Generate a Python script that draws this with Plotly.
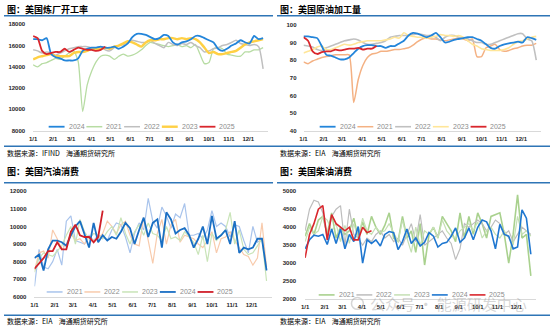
import plotly.graph_objects as go

W, H = 550, 331

# ---------------- data ----------------
month_starts = [0, 31, 59, 90, 120, 151, 181, 212, 243, 273, 304, 334]
month_labels = ["1/1", "2/1", "3/1", "4/1", "5/1", "6/1", "7/1", "8/1", "9/1", "10/1", "11/1", "12/1"]

# Panel 1: US refinery (kb/d)
ref_2024 = [16600,16600,16500,16700,15200,14900,14800,14600,14600,14600,
            14800,15500,15700,15800,15800,15900,15800,15800,15900,15700,
            15900,16200,16800,17100,17100,17000,16800,16600,16700,17000,
            16900,16300,16100,16300,16400,16600,16900,16900,16700,16500,
            16300,15700,15500,15700,16000,16200,16500,16300,16200,16900,
            16600,16700]
ref_2021 = [14200,14000,14300,14400,14600,14800,14700,15000,15300,15500,
            14500,9800,12300,13600,14500,15000,15100,15000,14700,15000,
            15200,15000,15100,15300,15600,16000,16300,16200,16100,16000,
            15900,16000,16100,15900,16000,15800,16100,15200,14300,14400,
            15700,15800,15700,15200,15100,15000,15000,15400,15400,15600,
            15600,15800]
ref_2022 = [15600,15500,15300,15400,15300,15100,15300,15500,15700,15800,
            15900,15900,15900,15800,15700,15900,15600,15500,15800,16000,
            16100,16300,16500,16400,16300,16300,16500,16200,16000,15800,
            16300,16100,16000,16200,16100,16300,16000,15800,15400,15500,
            15700,15800,16000,16100,16300,16500,16200,16100,16000,16100,
            15900,13800]
ref_2023 = [14700,14900,15000,15100,15200,15000,15000,15000,15000,15300,
            15400,15400,15500,15700,15700,15700,15800,15700,15900,16000,
            16200,16400,16300,16100,15900,16300,16500,16500,16600,16600,
            16700,16700,16600,16700,16600,16700,16600,16300,15800,15300,
            15400,15200,15200,15300,15400,15500,15800,16100,16300,16400,
            16500,16600]
ref_2025 = [16900,16700,15500,15200,15300,15400,15400,15700,15400,15600,
            15800,15700,15600,15600,15500,15600,15900]

# Panel 2: US crude runs
run_2024 = [93.5,93.5,93,92.5,88,83,82.5,81.5,80.5,80.5,
            81.5,84,86.5,88,88.5,88.5,88,88,87,88,
            88,89.5,91,94,95.5,95,94,93,94,95.5,
            93,90,90.5,91.5,92,92.5,93,93,92,91,
            89,87,86.5,88,89,89.5,90,90.5,90,93,
            92.5,91.5]
run_2021 = [79,78,79.5,80.5,81.5,82,82.5,83,83,83,
            83,56,69,77,81.5,83.5,84,85,85,85.5,
            86,86,86.5,87,88.5,90.5,92,92.5,92,92,
            91.5,91,91.5,92,92.5,92,91,92,82,82,
            87,88,89,86,85,85.5,86.5,87,88,88.5,
            88.5,89.5]
run_2022 = [88.5,88,87.5,86,85.5,87,88,89,90,91,
            91.5,92,91.5,90,89,89,89.5,90,91,93,
            93.5,94,94,94,94.5,95,94.5,94,94,93,
            91,93,94,94,93,92.5,92,91,90,90,
            89,89,90,91,92,93,94,95,95,92,
            91,80]
run_2023 = [84,85,86,87.5,88,86,86,87,88,89,
            88.5,89,90,90.5,91,91,91,91,91.5,92,
            93,92.5,95.5,94,93.5,93,93,92.5,93,93.5,
            94.5,94,94,93.5,94,93,91,89,88,86.5,
            86,85.5,85.5,85.5,86,87,89,90.5,91,92,
            93,93.5]
run_2025 = [93,91,85,83.5,84.5,85,85,86,85.5,86,86.5,86.5,87,86,86.5,86.5,88]

# Panel 3: US gasoline demand
gas_2021 = [6600,8700,7700,7600,8000,8700,7800,10300,10600,9200,
            9100,9000,9500,9200,9500,9400,9200,9800,10200,10100,
            9400,8500,9600,10200,9800,11600,10300,9900,11100,10600,
            9900,10700,10500,11300,9500,9500,9600,9300,9800,10900,
            10000,10200,10000,9400,10100,10000,9200,8500,10000,9100,
            9300,7500]
gas_2022 = [7500,8500,8600,8200,9800,9300,8700,9000,9600,9200,
            9300,9000,9400,9200,9300,9600,10300,10000,9600,10100,
            10300,9500,9000,8900,10500,9300,7900,9600,10400,9000,
            10100,10400,9100,9500,9400,9300,9000,8800,9200,9700,
            8500,9300,9400,9700,9200,8800,8400,8300,7800,8200,
            10200,7700]
gas_2023 = [7400,8200,8500,8400,8300,8600,8900,9500,10000,9000,
            10400,9700,9300,9600,9500,9300,9700,10000,9500,10500,
            9600,9000,9700,10100,9500,10200,9600,9500,9200,10000,
            9300,9400,9200,9700,9400,9100,8400,9500,8000,9600,
            9200,9500,9800,10800,9000,9800,8700,8400,8500,8900,
            9300,6900]
gas_2024 = [8200,8400,7500,8700,9200,9200,9100,8900,9500,10000,
            10300,9600,8800,10200,9100,9500,9200,9400,9300,9700,
            10200,9900,9000,9800,10500,9400,10200,10400,8800,10800,
            10400,9600,9800,9900,9500,8800,9300,10000,9000,10600,
            9300,9500,9800,9000,10300,8500,8800,8700,8800,9300,
            9300,7500]
gas_2025 = [7600,7900,8200,8600,8600,9100,8700,8700,9700,10100,9500,9400,9400,9100,9400,10900]

# Panel 4: US diesel demand
dsl_2021 = [3750,4100,3800,4200,4300,3800,4400,3700,4000,3800,
            3900,4250,3700,4150,3800,4300,4000,3800,4050,4400,
            3700,3600,4300,3700,3900,3300,4100,2950,3800,4000,
            3700,4300,4100,3900,3600,4400,3700,4300,3800,4400,
            4100,3700,4300,4350,4400,3800,3000,3800,4900,3700,
            3800,2650]
dsl_2022 = [3900,4500,4750,4700,4400,3700,4300,4500,4600,3500,
            4500,3800,3700,3500,3700,3600,3800,3900,3700,3800,
            3600,3700,3500,3800,4100,3600,4350,3500,3600,3700,
            3800,3900,3700,3550,3100,3400,4100,4000,4100,4200,
            4100,3900,4000,4200,4100,3800,3900,3600,3800,4000,
            3900,3800]
dsl_2023 = [3600,4000,3800,3900,4300,4200,3900,4100,3600,4050,
            3550,4100,3700,4250,3900,3800,4000,3850,3900,4100,
            3850,3600,4200,3700,3300,4000,3500,3900,3800,4000,
            3700,4200,3900,3750,3700,3900,4000,4100,3900,4150,
            3700,3900,4000,3800,3700,3900,3700,3500,4300,3800,
            3900,3750]
dsl_2024 = [3400,3650,3780,3750,3800,3520,3950,3550,3950,3400,
            3800,3600,4020,3000,3650,3550,3650,3480,3800,3880,
            3850,3380,3600,3950,3550,3700,3480,3580,3850,3750,
            3450,3550,3580,3750,3980,3580,3700,3980,3650,4000,
            4200,4150,3900,3400,4080,3800,3750,3400,3450,4480,
            4250,3250]
dsl_2025 = [3150,3800,4100,4500,4600,3650,4350,4100,4000,3900,4000,3650,3650,4000,3850,3900]

# ---------------- styling / layout ----------------
BLUE_RULE = "#2E75B6"
TICK_FONT = dict(family="Liberation Sans", size=6, color="#262626", weight="bold")
CJK = "Noto Sans CJK SC"

panels = [
    dict(title="图：美国炼厂开工率", source="数据来源：IFIND    海通期货研究所",
         ox=0, oy=0, xdom=(29.3, 266.2), ydom=(130, 21.7), yr=(8000, 18000), dt=2000,
         smooth=True, leg_x=45, leg_y=126, standoff=7,
         draw=[("2021", ref_2021, "#B7DCA3", 1.3), ("2022", ref_2022, "#BFBFBF", 1.5),
               ("2023", ref_2023, "#FFD044", 2.4), ("2024", ref_2024, "#2385DA", 1.8),
               ("2025", ref_2025, "#D9262C", 1.8)],
         legend=["2024", "2021", "2022", "2023", "2025"]),
    dict(title="图：美国原油加工量", source="数据来源：EIA    海通期货研究所",
         ox=275, oy=0, xdom=(301.7, 541.4), ydom=(130, 22.3), yr=(40, 100), dt=10,
         smooth=True, leg_x=318, leg_y=126, standoff=6,
         draw=[("2021", run_2021, "#F4B183", 1.5), ("2022", run_2022, "#C0C0C0", 1.6),
               ("2023", run_2023, "#FFE699", 1.6), ("2024", run_2024, "#2385DA", 1.8),
               ("2025", run_2025, "#D9262C", 1.8)],
         legend=["2024", "2021", "2022", "2023", "2025"]),
    dict(title="图：美国汽油消费", source="数据来源：EIA    海通期货研究所",
         ox=0, oy=165, xdom=(30.7, 269.7), ydom=(299.3, 191.7), yr=(6000, 12000), dt=1000,
         smooth=False, leg_x=43, leg_y=294.3, standoff=7,
         draw=[("2021", gas_2021, "#A9C4EC", 1.2), ("2022", gas_2022, "#F8CBAD", 1.2),
               ("2023", gas_2023, "#C9E4B8", 1.2), ("2024", gas_2024, "#1A6FC4", 1.8),
               ("2025", gas_2025, "#D0202A", 1.8)],
         legend=["2021", "2022", "2023", "2024", "2025"]),
    dict(title="图：美国柴油消费", source="数据来源：EIA    海通期货研究所",
         ox=275, oy=165, xdom=(303.3, 535.8), ydom=(301.7, 191.7), yr=(2000, 5000), dt=500,
         smooth=False, leg_x=317, leg_y=297.3, standoff=8,
         draw=[("2021", dsl_2021, "#A9D18E", 1.6), ("2022", dsl_2022, "#BDBDBD", 1.2),
               ("2023", dsl_2023, "#C5E0B4", 1.2), ("2024", dsl_2024, "#1F77D0", 1.6),
               ("2025", dsl_2025, "#D9262C", 1.6)],
         legend=["2021", "2022", "2023", "2024", "2025"]),
]


def px(x):
    return x / W


def py(y):
    return 1 - y / H


fig = go.Figure()
shapes, annotations = [], []
layout = {}

for k, p in enumerate(panels, start=1):
    sfx = "" if k == 1 else str(k)
    xa, ya = "x" + sfx, "y" + sfx
    for name, vals, col, w in p["draw"]:
        fig.add_trace(go.Scatter(
            x=[7 * i for i in range(len(vals))], y=vals, mode="lines", name=name,
            line=dict(color=col, width=w, shape="spline" if p["smooth"] else "linear",
                      smoothing=0.6),
            xaxis=xa, yaxis=ya, showlegend=False, hoverinfo="skip"))
    layout["xaxis" + sfx] = dict(
        domain=[px(p["xdom"][0]), px(p["xdom"][1])], range=[0, 365], anchor=ya,
        tickvals=month_starts, ticktext=month_labels, showgrid=False, zeroline=False,
        showline=True, linecolor="#D9D9D9", linewidth=1, ticks="", tickfont=TICK_FONT,
        ticklabelstandoff=2, fixedrange=True)
    layout["yaxis" + sfx] = dict(
        domain=[py(p["ydom"][0]), py(p["ydom"][1])], range=list(p["yr"]), dtick=p["dt"],
        tickformat="d", anchor=xa, showgrid=False, zeroline=False, showline=False, ticks="",
        tickfont=TICK_FONT, ticklabelstandoff=p["standoff"], fixedrange=True)

    # title + rules + source
    annotations.append(dict(text="<b>" + p["title"] + "</b>", x=px(p["ox"] + 1), y=py(p["oy"] + 7),
                            xref="paper", yref="paper", xanchor="left", yanchor="middle",
                            showarrow=False, font=dict(family=CJK, size=9, color="#000000")))
    annotations.append(dict(text=p["source"], x=px(p["ox"] + 1), y=py(p["oy"] + 159 if p["oy"] else 153),
                            xref="paper", yref="paper", xanchor="left", yanchor="middle",
                            showarrow=False, font=dict(family=CJK, size=7, color="#000000")))
    top_y = p["oy"] + (13 if p["oy"] == 0 else 18)
    bot_y = p["oy"] + (146 if p["oy"] == 0 else 153)
    x_end = p["ox"] + (271 if p["ox"] == 0 else 275)
    shapes.append(dict(type="line", xref="paper", yref="paper", x0=px(p["ox"]), x1=px(x_end),
                       y0=py(top_y), y1=py(top_y), line=dict(color=BLUE_RULE, width=1.5)))
    shapes.append(dict(type="line", xref="paper", yref="paper", x0=px(p["ox"]), x1=px(p["ox"] + 275),
                       y0=py(bot_y), y1=py(bot_y), line=dict(color=BLUE_RULE, width=1.5)))

    # legend drawn like the original (short line + label)
    style = {n: (c, w) for n, _, c, w in p["draw"]}
    for j, name in enumerate(p["legend"]):
        c, w = style[name]
        lx = p["leg_x"] + 38 * j
        shapes.append(dict(type="line", xref="paper", yref="paper", x0=px(lx), x1=px(lx + 16),
                           y0=py(p["leg_y"]), y1=py(p["leg_y"]), line=dict(color=c, width=max(w, 1.5))))
        annotations.append(dict(text=name, x=px(lx + 18), y=py(p["leg_y"]), xref="paper", yref="paper",
                                xanchor="left", yanchor="middle", showarrow=False,
                                font=dict(family="Liberation Sans", size=7, color="#8C8C8C")))

# watermark (semi-transparent, sits over the lower axis as in the original)
annotations.append(dict(text="公众号 · 能源研发中心", x=px(448), y=py(306), xref="paper", yref="paper",
                        xanchor="center", yanchor="middle", showarrow=False,
                        font=dict(family=CJK, size=15, color="rgba(150,150,150,0.4)")))
shapes.append(dict(type="circle", xref="paper", yref="paper", x0=px(350), x1=px(362),
                   y0=py(312), y1=py(300), line=dict(color="rgba(150,150,150,0.4)", width=1.5)))

fig.update_layout(
    width=W, height=H, margin=dict(l=0, r=0, t=0, b=0),
    paper_bgcolor="white", plot_bgcolor="white", showlegend=False,
    shapes=shapes, annotations=annotations, **layout)

fig.write_html("out.html")
